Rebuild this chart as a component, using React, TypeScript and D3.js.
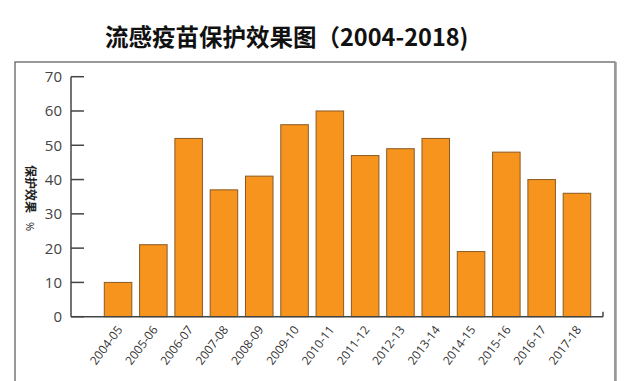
import React from "react";
import * as d3 from "d3";

const categories = ["2004-05","2005-06","2006-07","2007-08","2008-09","2009-10","2010-11","2011-12","2012-13","2013-14","2014-15","2015-16","2016-17","2017-18"];
const values = [10, 21, 52, 37, 41, 56, 60, 47, 49, 52, 19, 48, 40, 36];
const yTicks = [0, 10, 20, 30, 40, 50, 60, 70];
const title = "流感疫苗保护效果图（2004-2018)";
const yLabel = "保护效果";

export default function App() {
  const W = 632, H = 381;
  const x = d3.scaleBand<string>().domain(categories).range([100.4, 594.6]).paddingInner(0.22).paddingOuter(0.11);
  const y = d3.scaleLinear().domain([0, 70]).range([316.7, 76.7]);
  const axisX = 71;
  const baseY = y(0);
  const tickFont = "'Open Sans', 'Liberation Sans', sans-serif";
  return (
    <svg width={W} height={H} style={{ position: "absolute", left: 0, top: 0, background: "#fff" }}>
      <rect x={0} y={0} width={W} height={H} fill="#fff" />
      <text x={105} y={46} fontFamily="'Noto Sans CJK SC', sans-serif" fontWeight="bold" fontSize={23.5} fill="#111">{title}</text>
      <rect x={15} y={62} width={600} height={330} fill="none" stroke="#555" strokeWidth={1.2} />
      <line x1={615.5} y1={62} x2={615.5} y2={381} stroke="#999" strokeWidth={2.5} />
      {values.map((v, i) => (
        <rect key={categories[i]} x={x(categories[i])} y={y(v)} width={x.bandwidth()} height={baseY - y(v)} fill="#F7941E" stroke="#8a5a24" strokeWidth={1} />
      ))}
      <line x1={axisX} y1={y(70)} x2={axisX} y2={baseY} stroke="#444" strokeWidth={1.5} />
      <line x1={axisX} y1={baseY} x2={603} y2={baseY} stroke="#444" strokeWidth={1.5} />
      <line x1={603} y1={baseY} x2={603} y2={baseY - 5} stroke="#444" strokeWidth={1.5} />
      {yTicks.map(t => (
        <g key={t}>
          <line x1={axisX} y1={y(t)} x2={axisX + 13} y2={y(t)} stroke="#444" strokeWidth={1.5} />
          <text x={62} y={y(t)} dy="0.36em" textAnchor="end" fontFamily={tickFont} fontSize={15} fill="#444">{t}</text>
        </g>
      ))}
      {categories.map(c => {
        const cx = (x(c) as number) + x.bandwidth() / 2 + 5;
        return (
          <text key={c} transform={`translate(${cx},${baseY + 13}) rotate(-53)`} textAnchor="end" fontFamily={tickFont} fontSize={12} fill="#333">{c}</text>
        );
      })}
      <text transform={`translate(26,165) rotate(90)`} fontFamily="'Noto Sans CJK SC', sans-serif" fontWeight="bold" fontSize={12} fill="#222">{yLabel}</text>
      <text transform={`translate(26,222) rotate(90)`} fontFamily={tickFont} fontSize={11} fill="#222">%</text>
    </svg>
  );
}
